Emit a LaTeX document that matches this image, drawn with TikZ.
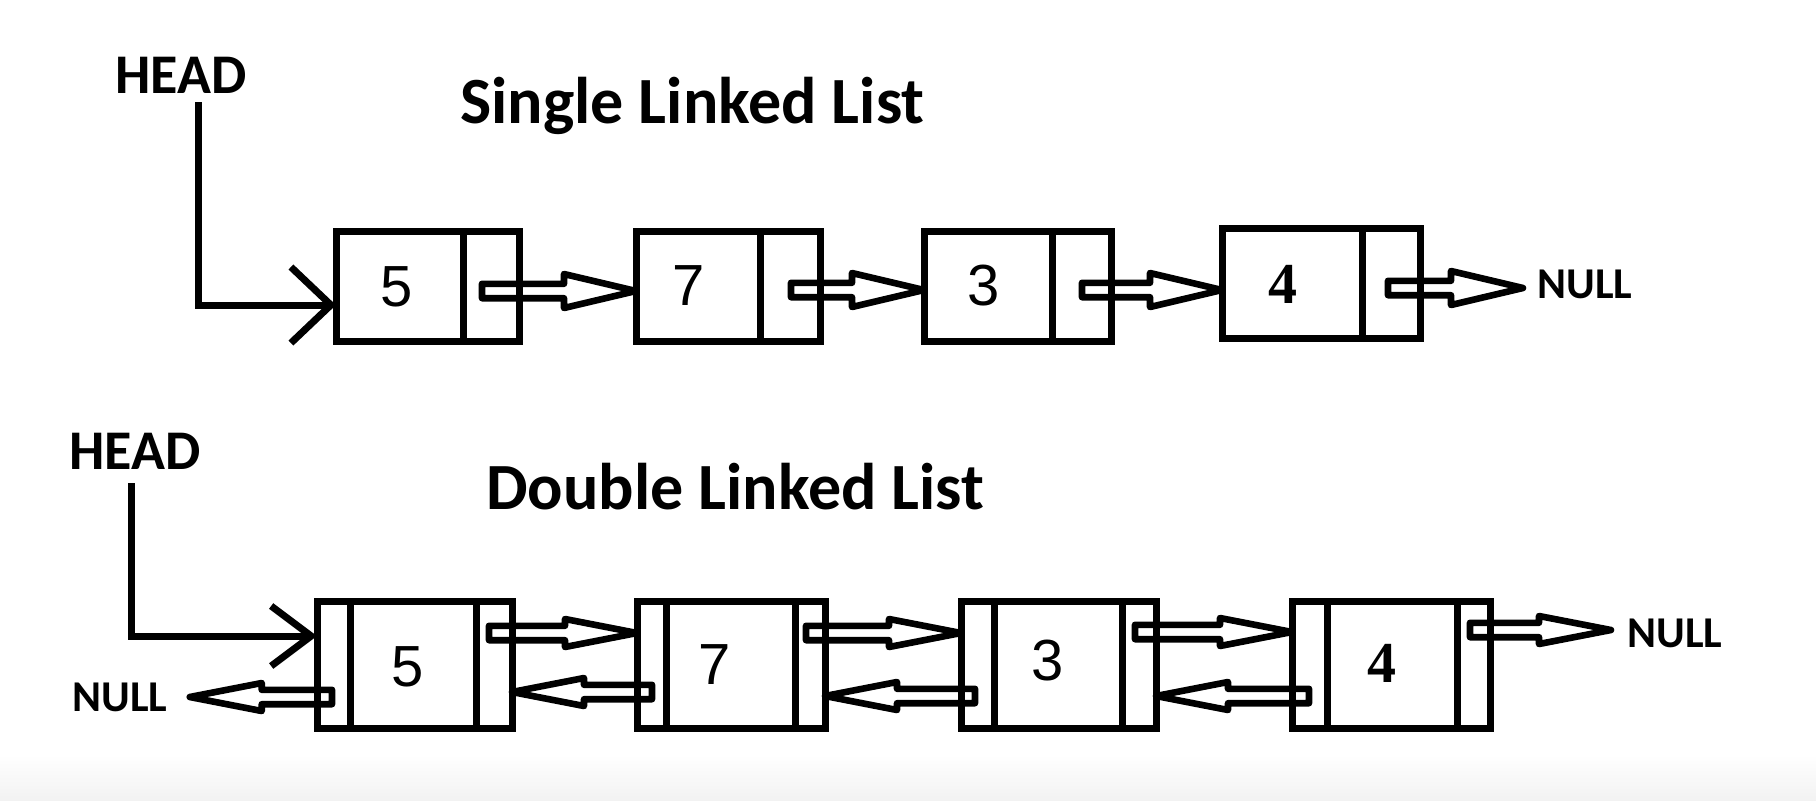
\documentclass[tikz,border=0pt]{standalone}
\usepackage{fontspec}
\setmainfont{Carlito}
\newfontfamily\digitfont{Liberation Sans}
\newfontfamily\fourfont{Liberation Serif}
\usetikzlibrary{arrows.meta,calc}

\tikzset{
  cellbox/.style={draw=black, line width=3.5pt, inner sep=0pt, outer sep=0pt},
  numtext/.style={font=\digitfont\fontsize{29}{31}\selectfont, inner sep=0pt},
  fourtext/.style={font=\fourfont\bfseries\fontsize{29}{31}\selectfont, inner sep=0pt},
  titletext/.style={font=\bfseries\fontsize{33}{36}\selectfont, inner sep=0pt, anchor=base west},
  headtext/.style={font=\bfseries\fontsize{28}{30}\selectfont, inner xsep=0pt, anchor=base west},
  nulltext/.style={font=\bfseries\fontsize{22}{24}\selectfont, inner sep=0pt, anchor=base west},
  blockarrow/.style={draw=black, line width=3.3pt, line join=round},
  headline/.style={draw=black, line width=3.5pt},
  barbS/.style={-{Straight Barb[length=20pt,width=38pt,line width=3.5pt]}},
  barbD/.style={-{Straight Barb[length=20pt,width=30pt,line width=3.5pt]}},
}

% cell: name, x1, x2, y1, y2 (pixel coordinates of the border centre lines)
\newcommand{\llcell}[5]{%
  \pgfmathsetmacro{\llcx}{(#2+#3)/2}%
  \pgfmathsetmacro{\llcy}{(#4+#5)/2}%
  \pgfmathsetmacro{\llcw}{(#3-#2)*0.5}%
  \pgfmathsetmacro{\llch}{(#5-#4)*0.5}%
  \node[cellbox, minimum width=\llcw pt, minimum height=\llch pt] (#1) at (\llcx,\llcy) {};}

% hollow block arrow from a tail coordinate to a target (horizontal)
\newcommand{\barrow}[3][8.5pt]{%
  \path[blockarrow] let \p1=(#2), \p2=(#3), \n1={(\x2-\x1)/abs(\x2-\x1)} in
    (\x1,{\y1+3.6pt}) -- ({\x2-\n1*36pt},{\y1+3.6pt}) -- ({\x2-\n1*36pt},{\y1+#1})
    -- (\x2,\y1) -- ({\x2-\n1*36pt},{\y1-#1}) -- ({\x2-\n1*36pt},{\y1-3.6pt})
    -- (\x1,{\y1-3.6pt}) -- cycle;}

\begin{document}
\begin{tikzpicture}[x=0.5pt,y=-0.5pt]
\path[use as bounding box, fill=white] (0,0) rectangle (1816,800);
\fill[top color=white, bottom color=black!5] (0,755) rectangle (1816,800);

% ---------------- Single linked list ----------------
\node[titletext] (stitle) at (460,123) {Single Linked List};
\node[headtext, inner ysep=4.5pt] (hs) at (115,93) {HEAD};

\llcell{s1d}{336}{463}{231}{341}
\llcell{s1p}{463}{519}{231}{341}
\llcell{s2d}{636}{760}{231}{341}
\llcell{s2p}{760}{820}{231}{341}
\llcell{s3d}{924}{1052}{231}{341}
\llcell{s3p}{1052}{1111}{231}{341}
\llcell{s4d}{1222}{1362}{228}{338}
\llcell{s4p}{1362}{1420}{228}{338}

\node[numtext] (n5s) at (397,287) {5};
\node[numtext] (n7s) at (689,286) {7};
\node[numtext] (n3s) at (984,286) {3};
\node[fourtext] (n4s) at (1283,284) {4};

\node[nulltext] (nulls) at (1537,298) {NULL};

\coordinate (hsbend) at (198,305);
\draw[headline, barbS] (hs.south -| hsbend) -- (hsbend) -- (hsbend -| s1d.west);

\coordinate (s1t) at (482,291);
\coordinate (s2t) at (791,290);
\coordinate (s3t) at (1082,290);
\coordinate (s4t) at (1388,288);
\barrow{s1t}{s2d.west}
\barrow{s2t}{s3d.west}
\barrow{s3t}{s4d.west}
\barrow{s4t}{[xshift=-7pt]nulls.west}

% ---------------- Double linked list ----------------
\node[titletext] (dtitle) at (486,509) {Double Linked List};
\node[headtext, inner ysep=7pt] (hd) at (69,469) {HEAD};

\llcell{d1l}{317}{350}{601}{728}
\llcell{d1d}{350}{476}{601}{728}
\llcell{d1r}{476}{512}{601}{728}
\llcell{d2l}{637}{666}{601}{728}
\llcell{d2d}{666}{795}{601}{728}
\llcell{d2r}{795}{825}{601}{728}
\llcell{d3l}{961}{994}{601}{728}
\llcell{d3d}{994}{1122}{601}{728}
\llcell{d3r}{1122}{1156}{601}{728}
\llcell{d4l}{1292}{1327}{601}{728}
\llcell{d4d}{1327}{1457}{601}{728}
\llcell{d4r}{1457}{1490}{601}{728}

\node[numtext] (n5d) at (408,667) {5};
\node[numtext] (n7d) at (715,665) {7};
\node[numtext] (n3d) at (1048,661) {3};
\node[fourtext] (n4d) at (1382,663) {4};

\node[nulltext] (nulldr) at (1627,647) {NULL};
\node[nulltext] (nulldl) at (72,711) {NULL};

\coordinate (hdbend) at (131,636);
\draw[headline, barbD] (hd.south -| hdbend) -- (hdbend) -- (hdbend -| d1l.west);

% forward links
\coordinate (d1t) at (489,633);
\coordinate (d2t) at (806,633);
\coordinate (d3t) at (1135,632);
\coordinate (d4t) at (1470,630);
\barrow[7pt]{d1t}{d2l.west}
\barrow[7pt]{d2t}{d3l.west}
\barrow[7pt]{d3t}{d4l.west}
\barrow[7pt]{d4t}{[xshift=-8pt]nulldr.west}

% backward links
\coordinate (b1t) at (332,697);
\coordinate (b2t) at (652,692);
\coordinate (b3t) at (975,696);
\coordinate (b4t) at (1309,696);
\barrow[7pt]{b1t}{[xshift=11pt]nulldl.east}
\barrow[7pt]{b2t}{d1r.east}
\barrow[7pt]{b3t}{d2r.east}
\barrow[7pt]{b4t}{d3r.east}
\end{tikzpicture}
\end{document}
